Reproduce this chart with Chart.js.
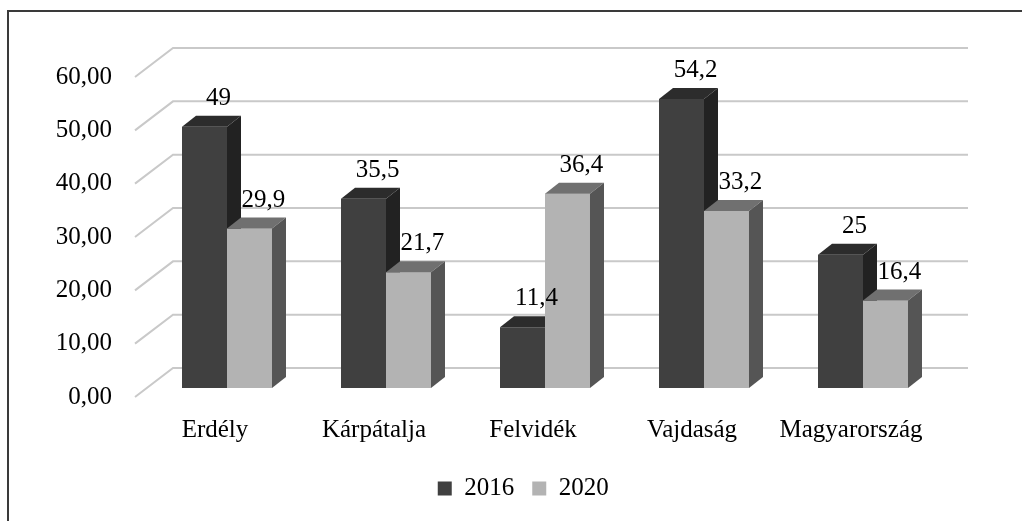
<!DOCTYPE html>
<html>
<head>
<meta charset="utf-8">
<script src="https://cdn.jsdelivr.net/npm/chart.js@4.4.1/dist/chart.umd.min.js"></script>
<style>
  html, body { margin: 0; padding: 0; background: #fff; }
</style>
</head>
<body>
<canvas id="chart" width="1022" height="521"></canvas>
<script>
// chart data
const regions = ['Erdély', 'Kárpátalja', 'Felvidék', 'Vajdaság', 'Magyarország'];
const seriesNames = ['2016', '2020'];
const values2016 = [49, 35.5, 11.4, 54.2, 25];
const values2020 = [29.9, 21.7, 36.4, 33.2, 16.4];
const yTicks = [0, 10, 20, 30, 40, 50, 60];

// look
const FONT = 'Liberation Serif';
const frontColors = ['#404040', '#b3b3b3'];
const topColors = ['#2c2c2c', '#707070'];
const sideColors = ['#222222', '#555555'];
const DX = 14, DY = 11;            // depth of a bar
const WALL_FRONT = [-12.5, 9];     // front edge of side wall, relative to bar plane
const WALL_BACK = [25.5, -20];     // back wall, relative to bar plane
const LEGEND_SHIFT = 52;           // legend sits right of the plot centre

const fmt = v => String(v).replace('.', ',');

const fake3d = {
  id: 'fake3d',
  afterLayout(chart) {
    chart.legend.left += LEGEND_SHIFT;
    chart.legend.right += LEGEND_SHIFT;
  },
  beforeDraw(chart) {
    const ctx = chart.ctx;
    ctx.save();
    ctx.strokeStyle = '#3a3a3a';
    ctx.lineWidth = 2;
    ctx.beginPath();
    ctx.moveTo(8, 521);
    ctx.lineTo(8, 11);
    ctx.lineTo(1022, 11);
    ctx.stroke();
    ctx.restore();
  },
  beforeDatasetsDraw(chart) {
    const ctx = chart.ctx;
    const y = chart.scales.y;
    const { left, right } = chart.chartArea;
    ctx.save();
    ctx.strokeStyle = '#c9c9c9';
    ctx.lineWidth = 2;
    yTicks.forEach(v => {
      const py = y.getPixelForValue(v);
      ctx.beginPath();
      ctx.moveTo(left + WALL_FRONT[0], py + WALL_FRONT[1]);
      ctx.lineTo(left + WALL_BACK[0], py + WALL_BACK[1]);
      ctx.lineTo(right + WALL_BACK[0], py + WALL_BACK[1]);
      ctx.stroke();
    });
    ctx.restore();
  },
  afterDatasetsDraw(chart) {
    const ctx = chart.ctx;
    ctx.save();
    // side and top faces, left series first so the right bar's front covers its side
    chart.data.datasets.forEach((ds, i) => {
      chart.getDatasetMeta(i).data.forEach(bar => {
        if (i > 0) bar.draw(ctx);
        const { x, y, base, width } = bar.getProps(['x', 'y', 'base', 'width'], true);
        const l = x - width / 2, r = x + width / 2;
        ctx.fillStyle = topColors[i];
        ctx.beginPath();
        ctx.moveTo(l, y);
        ctx.lineTo(l + DX, y - DY);
        ctx.lineTo(r + DX, y - DY);
        ctx.lineTo(r, y);
        ctx.closePath();
        ctx.fill();
        ctx.fillStyle = sideColors[i];
        ctx.beginPath();
        ctx.moveTo(r, y);
        ctx.lineTo(r + DX, y - DY);
        ctx.lineTo(r + DX, base - DY);
        ctx.lineTo(r, base);
        ctx.closePath();
        ctx.fill();
      });
    });

    // value labels
    ctx.font = '25px "' + FONT + '"';
    ctx.fillStyle = '#000';
    ctx.textAlign = 'center';
    ctx.textBaseline = 'alphabetic';
    chart.data.datasets.forEach((ds, i) => {
      chart.getDatasetMeta(i).data.forEach((bar, j) => {
        const { x, y } = bar.getProps(['x', 'y'], true);
        ctx.fillText(fmt(ds.data[j]), x + DX, y - DY - 11);
      });
    });
    ctx.restore();
  }
};

new Chart(document.getElementById('chart'), {
  type: 'bar',
  data: {
    labels: regions,
    datasets: [
      { label: seriesNames[0], data: values2016, backgroundColor: frontColors[0] },
      { label: seriesNames[1], data: values2020, backgroundColor: frontColors[1] }
    ]
  },
  options: {
    responsive: false,
    devicePixelRatio: 1,
    animation: false,
    layout: { padding: { top: 68, right: 79.5, bottom: 10, left: 0 } },
    datasets: { bar: { categoryPercentage: 0.566, barPercentage: 1 } },
    plugins: {
      legend: {
        position: 'bottom',
        labels: {
          font: { family: FONT, size: 25 },
          color: '#000',
          boxWidth: 14,
          boxHeight: 14,
          padding: 18
        }
      },
      tooltip: { enabled: false }
    },
    scales: {
      x: {
        grid: { display: false, drawTicks: false },
        border: { display: false },
        ticks: {
          font: { family: FONT, size: 25 },
          color: '#000',
          labelOffset: -12,
          padding: 27,
          maxRotation: 0
        },
        afterFit: scale => { scale.height = 70; }
      },
      y: {
        min: 0,
        max: 60,
        grid: { display: false, drawTicks: false },
        border: { display: false },
        ticks: {
          stepSize: 10,
          font: { family: FONT, size: 25 },
          color: '#000',
          padding: 35.5,
          labelOffset: 9,
          callback: v => v.toFixed(2).replace('.', ',')
        },
        afterFit: scale => { scale.width = 147.5; }
      }
    }
  },
  plugins: [fake3d]
});
</script>
</body>
</html>
